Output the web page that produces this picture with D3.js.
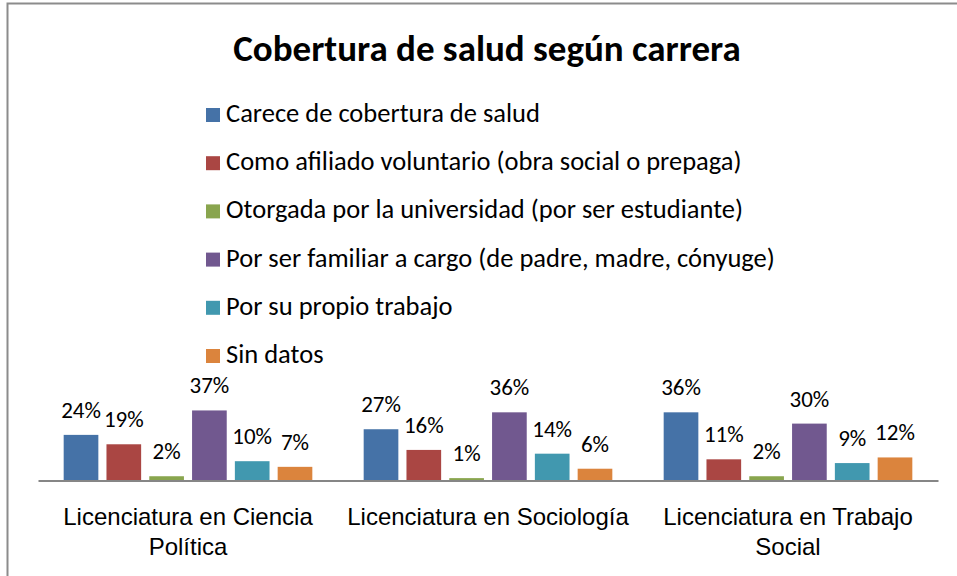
<!DOCTYPE html>
<html>
<head>
<meta charset="utf-8">
<script src="https://cdn.jsdelivr.net/npm/d3@7"></script>
<style>
  body { margin: 0; background: #fff; }
  svg { font-family: Carlito, Calibri, Lato, sans-serif; }
</style>
</head>
<body>
<div id="svg-container"></div>
<script>
// data
const categories = [
  "Licenciatura en Ciencia Política",
  "Licenciatura en Sociología",
  "Licenciatura en Trabajo Social"
];
const categoryLines = [
  ["Licenciatura en Ciencia", "Política"],
  ["Licenciatura en Sociología"],
  ["Licenciatura en Trabajo", "Social"]
];
const seriesNames = [
  "Carece de cobertura de salud",
  "Como afiliado voluntario (obra social o prepaga)",
  "Otorgada por la universidad (por ser estudiante)",
  "Por ser familiar a cargo (de padre, madre, cónyuge)",
  "Por su propio trabajo",
  "Sin datos"
];
const carece = [24, 27, 36];
const afiliado = [19, 16, 11];
const universidad = [2, 1, 2];
const familiar = [37, 36, 30];
const trabajo = [10, 14, 9];
const sinDatos = [7, 6, 12];
const colors = ["#4572A7", "#AA4643", "#89A54E", "#71588F", "#4198AF", "#DB843D"];

const seriesValues = [carece, afiliado, universidad, familiar, trabajo, sinDatos];

// svg
const width = 957, height = 576;
const svg = d3.select("#svg-container").append("svg")
  .attr("width", width).attr("height", height);

// marco
svg.append("path")
  .attr("d", `M7.5,${height} L7.5,3.5 L${width},3.5`)
  .attr("fill", "none").attr("stroke", "#8c8c8c").attr("stroke-width", 2);

// titulo
svg.append("text")
  .attr("x", 487).attr("y", 61)
  .attr("text-anchor", "middle")
  .attr("font-size", 37).attr("font-weight", "bold")
  .text("Cobertura de salud según carrera");

// scales
const x0 = d3.scaleBand().domain(categories).range([38, 938]);
const x1 = d3.scaleBand().domain(d3.range(6))
  .range([0, x0.bandwidth()]).paddingInner(0.19).paddingOuter(0.6);
const y = d3.scaleLinear().domain([0, 40]).range([480, 404.8]);

// bars
const groups = svg.append("g").selectAll("g")
  .data(categories)
  .join("g")
  .attr("transform", (d) => `translate(${x0(d)},0)`);

groups.selectAll("rect")
  .data((d, i) => seriesValues.map((s, k) => ({ k, v: s[i] })))
  .join("rect")
  .attr("x", (d) => x1(d.k))
  .attr("width", x1.bandwidth())
  .attr("y", (d) => y(d.v))
  .attr("height", (d) => y(0) - y(d.v))
  .attr("fill", (d) => colors[d.k]);

groups.selectAll("text")
  .data((d, i) => seriesValues.map((s, k) => ({ k, v: s[i] })))
  .join("text")
  .attr("x", (d) => x1(d.k) + x1.bandwidth() / 2)
  .attr("y", (d) => y(d.v) - 17)
  .attr("text-anchor", "middle")
  .attr("font-size", 23)
  .text((d) => d.v + "%");

// axis
const xAxis = svg.append("g")
  .attr("transform", "translate(0,480.5)")
  .call(d3.axisBottom(x0).tickSize(0).tickFormat(""));
xAxis.select(".domain").attr("stroke", "#868686").attr("stroke-width", 2);

xAxis.selectAll(".tick")
  .append("text")
  .attr("fill", "#000")
  .attr("font-size", 24)
  .attr("text-anchor", "middle")
  .selectAll("tspan")
  .data((d, i) => categoryLines[i])
  .join("tspan")
  .attr("x", 0)
  .attr("y", (d, j) => 44 + j * 30)
  .text((d) => d);

// legend
const legend = svg.append("g").selectAll("g")
  .data(seriesNames)
  .join("g")
  .attr("transform", (d, i) => `translate(206,${122 + i * 48.2})`);

legend.append("rect")
  .attr("x", 0).attr("y", -14)
  .attr("width", 14).attr("height", 14)
  .attr("fill", (d, i) => colors[i]);

legend.append("text")
  .attr("x", 20).attr("y", 0)
  .attr("font-size", 26.5)
  .text((d) => d);
</script>
</body>
</html>
